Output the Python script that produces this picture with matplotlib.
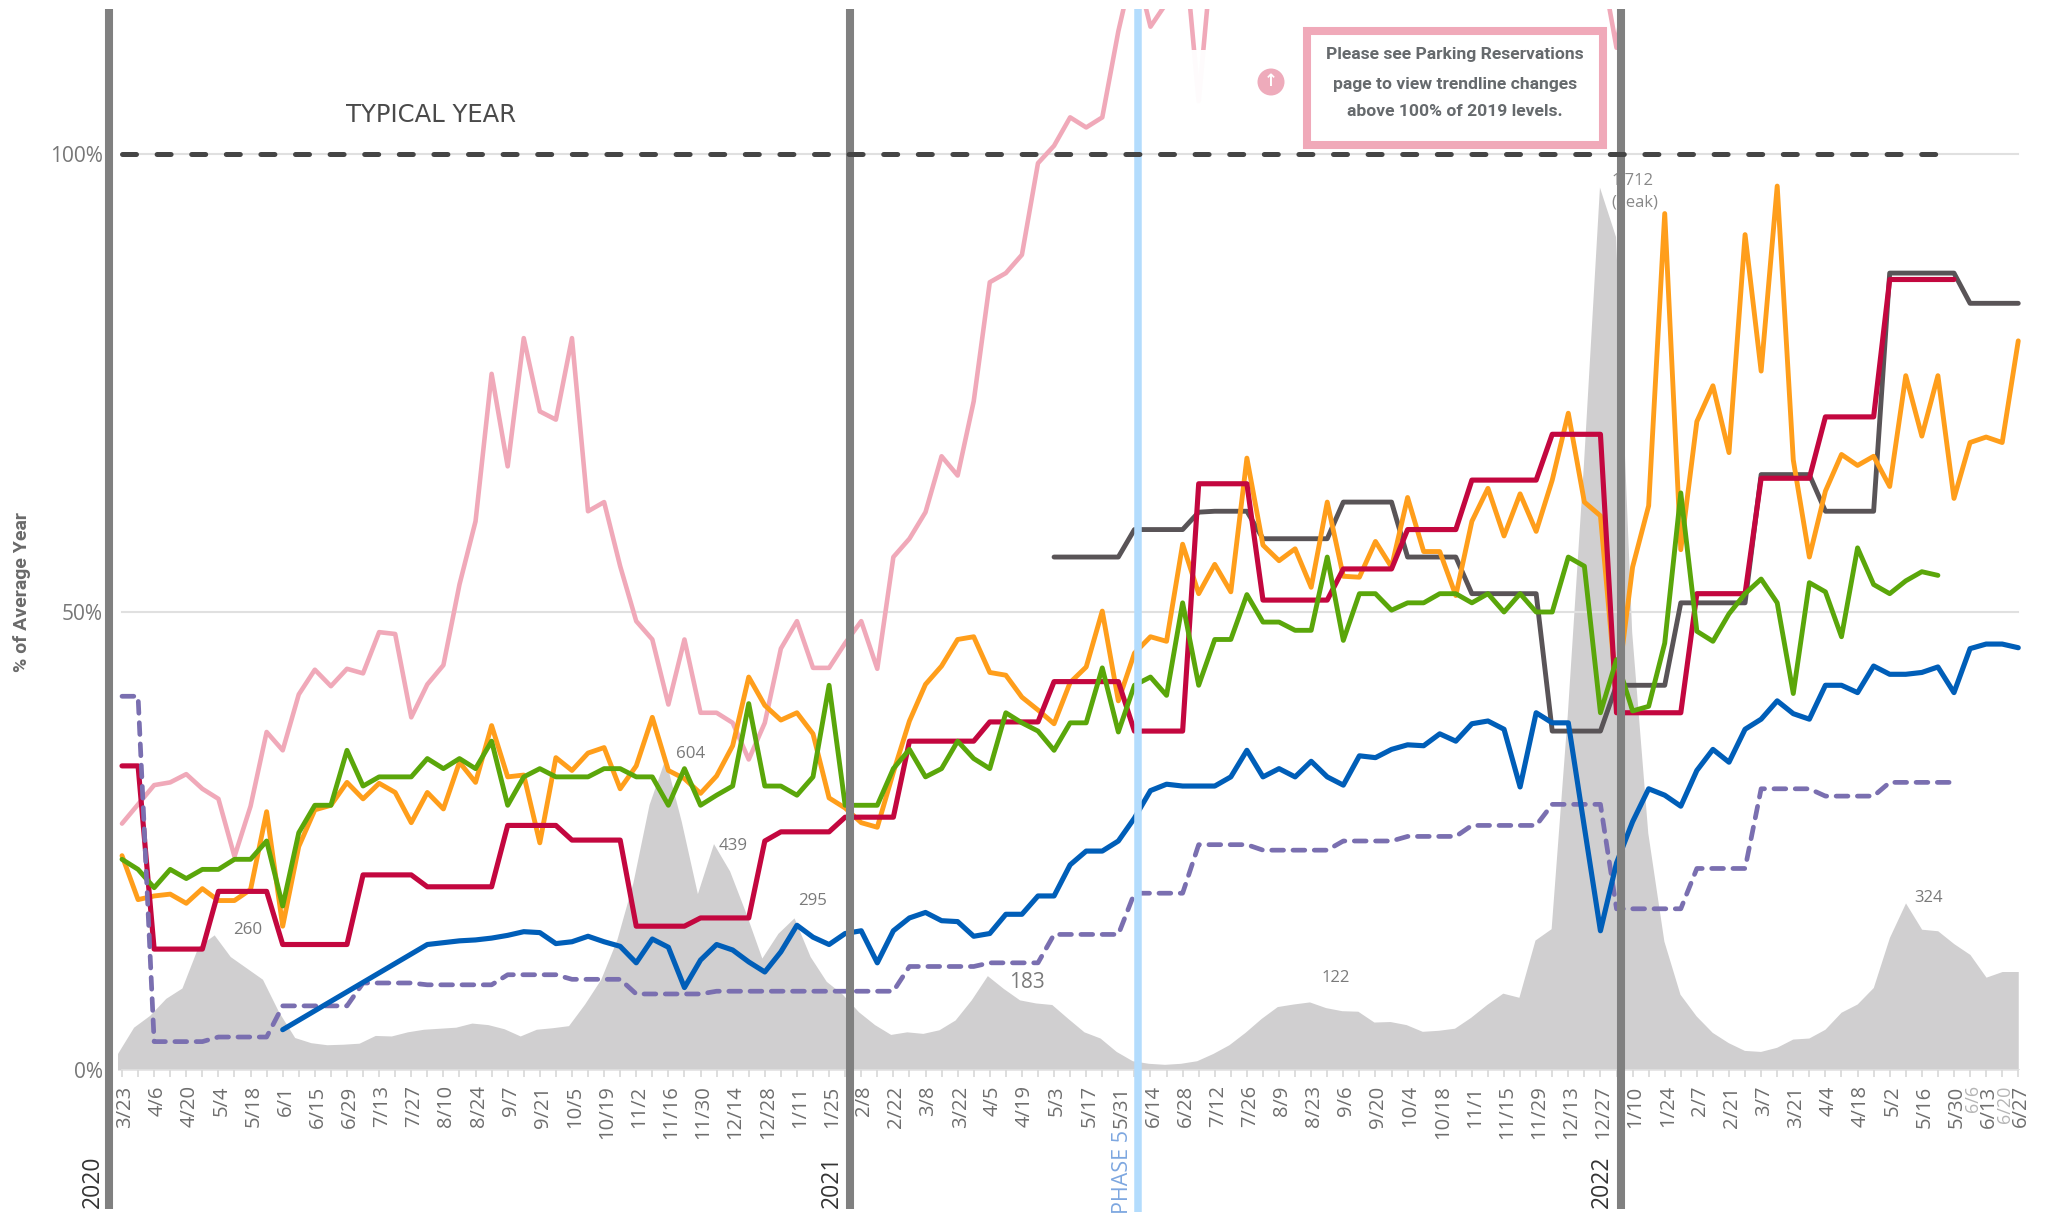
import numpy as np
import matplotlib
matplotlib.use("Agg")
import matplotlib.pyplot as plt
from matplotlib.patches import Rectangle, Ellipse

nan = float("nan")

tick_labels = ["3/23","4/6","4/20","5/4","5/18","6/1","6/15","6/29","7/13","7/27","8/10","8/24","9/7","9/21","10/5","10/19",
 "11/2","11/16","11/30","12/14","12/28","1/11","1/25","2/8","2/22","3/8","3/22","4/5","4/19","5/3","5/17","5/31","6/14",
 "6/28","7/12","7/26","8/9","8/23","9/6","9/20","10/4","10/18","11/1","11/15","11/29","12/13","12/27","1/10","1/24",
 "2/7","2/21","3/7","3/21","4/4","4/18","5/2","5/16","5/30"]
extra_tick_labels = ["6/6","6/13","6/20","6/27"]

pink = [26.9,29,31.1,31.4,32.3,30.7,29.6,23.3,28.8,36.9,
 34.9,41,43.7,41.9,43.8,43.3,47.8,47.6,38.5,42.1,
 44.2,53,59.9,76,65.9,79.9,71.9,71,79.9,61,
 62,55,49,47,39.9,47,39,39,37.9,33.9,
 37.9,46,49,43.9,43.9,46.6,49,43.8,56,58,
 60.9,67,64.9,73,86,87,89,99,100.9,104,
 102.9,104,113.4,121,113.9,116.5,125,105.8,125,140,
 145,150,155,160,150,165,170,160,175,180,
 170,185,175,190,180,170,185,175,160,150,140,125,
 121.4,111.6,124.3] + [nan]*24

orange = [23.4,18.6,19,19.2,18.2,19.8,18.5,18.5,19.7,28.2,
 15.7,24.4,28.4,28.9,31.4,29.6,31.3,30.3,27,30.3,
 28.5,33.6,31.4,37.6,32,32.2,24.8,34.1,32.7,34.6,
 35.2,30.7,33.2,38.5,32.7,31.8,30.2,32.1,35.4,42.9,
 39.8,38.2,39,36.7,29.7,28.6,27,26.5,32.5,38.1,
 42.1,44.1,47,47.3,43.4,43.1,40.7,39.3,37.8,42.3,
 44,50.1,40.3,45.5,47.3,46.8,57.4,52,55.2,52.2,
 66.8,57.3,55.6,56.9,52.7,62,53.9,53.8,57.7,54.9,
 62.5,56.6,56.6,51.8,59.9,63.5,58.3,62.9,58.8,64.4,
 71.7,62,60.5,41,54.9,61.6,93.5,56.8,70.8,74.7,
 67.4,91.2,76.3,96.5,66.6,56,63.2,67.2,66,67,
 63.7,75.8,69.2,75.8,62.4,68.5,69.1,68.5,79.6]

green = [23,21.9,19.9,21.9,20.9,21.9,21.9,23,23,25,
 17.9,25.9,28.9,28.9,34.9,31,32,32,32,34,
 32.9,34,32.9,35.9,28.9,32,32.9,32,32,32,
 32.9,32.9,32,32,28.9,32.9,28.9,30,31,40,
 31,31,30,32,42,28.9,28.9,28.9,32.9,35,
 32,32.9,35.9,34,32.9,39,37.9,37,34.9,37.9,
 37.9,43.9,36.9,42,42.9,40.9,51,42,47,47,
 51.9,48.9,48.9,48,48,56,46.9,52,52,50.2,
 51,51,52,52,51,52,50,52,50,50,
 56,55,39,44.8,39.2,39.7,46.6,63,47.9,46.8,
 49.8,52,53.6,51,41.1,53.2,52.2,47.3,57,53,
 52,53.4,54.4,54] + [nan]*5

red = [33.2,33.2,13.2,13.2,13.2,13.2,19.5,19.5,19.5,19.5,
 13.7,13.7,13.7,13.7,13.7,21.3,21.3,21.3,21.3,20,
 20,20,20,20,26.7,26.7,26.7,26.7,25.1,25.1,
 25.1,25.1,15.7,15.7,15.7,15.7,16.6,16.6,16.6,16.6,
 25,26,26,26,26,27.6,27.6,27.6,27.6,35.9,
 35.9,35.9,35.9,35.9,38,38,38,38,42.4,42.4,
 42.4,42.4,42.4,37,37,37,37,64,64,64,
 64,51.3,51.3,51.3,51.3,51.3,54.7,54.7,54.7,54.7,
 59,59,59,59,64.4,64.4,64.4,64.4,64.4,69.4,
 69.4,69.4,69.4,39,39,39,39,39,52,52,
 52,52,64.6,64.6,64.6,64.6,71.3,71.3,71.3,71.3,
 86.3,86.3,86.3,86.3,86.3] + [nan]*4

gray_line = [nan]*58 + [56,56,56,56,56,59,59,59,59,60.9,61,61,61,
 58,58,58,58,58,62,62,62,62,
 56,56,56,56,52,52,52,52,52,37,37,37,37,
 42,42,42,42,51,51,51,51,51,65,65,65,65,
 61,61,61,61,87,87,87,87,87,83.7,83.7,83.7,83.7]

blue = [nan]*10 + [4.4] + [nan]*8 + [13.7,13.9,14.1,14.2,14.4,14.7,15.1,15,13.8,14,
 14.6,14,13.5,11.7,14.3,13.4,9,12,13.7,13.1,
 11.8,10.7,12.9,15.8,14.5,13.7,14.9,15.2,11.7,15.2,
 16.6,17.2,16.3,16.2,14.6,14.9,17,17,19,19,
 22.4,23.9,23.9,25,27.5,30.5,31.2,31,31,31,
 32,34.9,32,32.9,32,33.7,32,31.1,34.3,34.1,35,
 35.5,35.4,36.7,35.9,37.8,38.1,37.2,30.9,39,37.9,
 37.9,26.5,15.2,22.6,27.1,30.7,30,28.8,32.7,35,
 33.6,37.2,38.3,40.3,38.9,38.3,42,42,41.2,44.1,
 43.2,43.2,43.4,44,41.2,46,46.5,46.5,46.1]

purple = [40.8,40.8,3.1,3.1,3.1,3.1,3.6,3.6,3.6,3.6,
 7,7,7,7,7,9.5,9.5,9.5,9.5,9.3,
 9.3,9.3,9.3,9.3,10.4,10.4,10.4,10.4,9.9,9.9,
 9.9,9.9,8.3,8.3,8.3,8.3,8.3,8.6,8.6,8.6,
 8.6,8.6,8.6,8.6,8.6,8.6,8.6,8.6,8.6,11.3,
 11.3,11.3,11.3,11.3,11.7,11.7,11.7,11.7,14.8,14.8,
 14.8,14.8,14.8,19.3,19.3,19.3,19.3,24.6,24.6,24.6,
 24.6,24,24,24,24,24,25,25,25,25,
 25.5,25.5,25.5,25.5,26.7,26.7,26.7,26.7,26.7,29,
 29,29,29,17.6,17.6,17.6,17.6,17.6,22,22,
 22,22,30.7,30.7,30.7,30.7,29.9,29.9,29.9,29.9,
 31.4,31.4,31.4,31.4,31.4] + [nan]*4

cases = [32,83,106,139,159,239,262,220,198,176,
 113,63,53,49,50,52,67,66,74,79,
 81,83,91,88,80,66,79,82,86,128,
 176,253,364,515,604,482,342,439,386,305,
 217,265,295,220,172,147,113,88,69,74,
 71,78,97,136,183,158,136,130,127,100,
 74,62,36,18,13,11,13,18,32,49,
 73,100,123,128,132,121,115,114,93,94,
 88,75,77,81,102,127,149,141,252,274,
 688,1172,1712,1616,850,460,250,147,105,73,
 53,38,36,44,60,62,79,112,128,160,
 257,324,273,270,245,224,180,191,191]

year_weeks = [-0.81, 45.3, 93.25]
year_names = ["2020", "2021", "2022"]
phase_week = 63.2
case_labels = [(7.84,15.3,"260",12.2),(35.4,34.5,"604",12.2),(38,24.5,"439",12.2),(42.95,18.5,"295",12.2),
               (56.3,9.5,"183",15),(75.5,10,"122",12),(112.4,18.8,"324",12)]

W, H = 2048, 1216
condensed = "Roboto"
plt.rcParams["font.family"] = ["Open Sans", "DejaVu Sans"]

fig = plt.figure(figsize=(W/100, H/100), dpi=100, facecolor="white")
AX_L, AX_R, AX_T, AX_B = 104, 2048, 9, 1070
ax2 = fig.add_axes([AX_L/W, 1-AX_B/H, (AX_R-AX_L)/W, (AX_B-AX_T)/H])
ax = fig.add_axes([AX_L/W, 1-AX_B/H, (AX_R-AX_L)/W, (AX_B-AX_T)/H])
ax.patch.set_visible(False)
xlim = ((AX_L-122)/16.07, (AX_R-122)/16.07)
ylim_top = (AX_B-AX_T)/9.16
ax.set_xlim(xlim); ax.set_ylim(0, ylim_top)
ax2.set_xlim(xlim); ax2.set_ylim(0, ylim_top/0.0563)
ax2.axis("off")

weeks = np.arange(119)
area_x = weeks - 0.28*(1 - weeks/118)
ax2.fill_between(area_x, cases, 0, color="#d0cfd0", lw=0)

for s in ax.spines.values():
    s.set_visible(False)

for v in (50, 100):
    ax.plot([0, 118], [v, v], color="#e0e0e0", lw=1.5, zorder=1)
ax.plot([0, 118], [0, 0], color="#e0e0e0", lw=2, zorder=1)

def series(vals, **kw):
    y = np.array(vals, dtype=float)
    m = ~np.isnan(y)
    ax.plot(weeks[m], y[m], solid_joinstyle="round", solid_capstyle="round", **kw)

series(pink, color="#f0a9b9", lw=3.3, zorder=3)
ax.add_patch(Rectangle((66.5, 105), 1.1, 6.4, facecolor="white", edgecolor="none", alpha=0.96, zorder=3.1))
series(gray_line, color="#595457", lw=3.5, zorder=4)
series(orange, color="#ff9e1b", lw=3.5, zorder=4.2)
series(red, color="#c3073f", lw=3.7, zorder=4.4)
series(green, color="#5aa60a", lw=3.5, zorder=4.6)
series(blue, color="#005eb8", lw=3.7, zorder=5)
yp = np.array(purple); mp = ~np.isnan(yp)
ax.plot(weeks[mp], yp[mp], color="#7a6fb0", lw=3.4, ls=(0, (2.5, 2.0)), dash_capstyle="round", zorder=4.8)

# year and phase bars
xt = ax.get_xaxis_transform()
y_bot = (AX_B-1209)/(AX_B-AX_T)
for wk in year_weeks:
    ax.plot([wk, wk], [y_bot, 1], transform=xt, color="#808080", lw=5.8, solid_capstyle="butt", clip_on=False, zorder=6)
ax.plot([phase_week]*2, [(AX_B-1212)/(AX_B-AX_T), 1], transform=xt, color="#b3dcfd", lw=5.4,
        solid_capstyle="butt", clip_on=False, zorder=6)

ax.plot([0, 113.6], [100, 100], color="#454545", lw=3.6, ls=(0, (2.8, 4.12)), dash_capstyle="round", zorder=7)

# ticks
major = list(range(0, 115, 2)) + [115, 116, 117, 118]
ax.set_xticks(major)
ax.set_xticks(range(1, 115, 2), minor=True)
ax.set_xticklabels(tick_labels + extra_tick_labels, rotation=90, fontsize=14.6, color="#6e6e6e")
ax.tick_params(axis="x", which="both", length=5, width=1.2, color="#d8d8d8", pad=6)
for lab, tx in zip(ax.get_xticklabels(), major):
    lab.set_va("top"); lab.set_ha("center")
    lab.set_transform(lab.get_transform() + matplotlib.transforms.ScaledTranslation(3/100, 0, fig.dpi_scale_trans))
    if tx in (115, 117):
        lab.set_color("#b5b5b5"); lab.set_fontsize(13)
ax.set_yticks([0, 50, 100])
ax.set_yticklabels(["0%", "50%", "100%"], fontsize=15, color="#777777")
ax.tick_params(axis="y", length=0, pad=1)

# case labels
for wk, v, t, fs in case_labels:
    ax.text(wk, v, t, fontsize=fs, color="#7a7a7a", ha="center", va="center", zorder=5.5)
ax.text(92.7, 97, "1,712", fontsize=12, color="#888888", ha="left", va="center", zorder=5.5)
ax.text(92.7, 94.7, "(Peak)", fontsize=12, color="#888888", ha="left", va="center", zorder=5.5)

def ft(x, y, s, **kw):
    return fig.text(x/W, 1-y/H, s, **kw)

ft(431, 115, "TYPICAL YEAR", fontsize=17.5, color="#4a4a4a", ha="center", va="center", family=["DejaVu Sans"])
ft(22, 592, "% of Average Year", fontsize=14, color="#6a6a6a", rotation=90, ha="center", va="center",
   family=[condensed, "DejaVu Sans"], fontweight="bold")
for x, name in zip((93, 832, 1602), year_names):
    ft(x, 1208, name, fontsize=16.5, color="#333333", rotation=90, ha="center", va="bottom")
ft(1122, 1214, "PHASE 5", fontsize=15.5, color="#7da7e0", rotation=90, ha="center", va="bottom")

# call-out
fig.add_artist(Rectangle((1307/W, 1-145/H), 296/W, 114/H, transform=fig.transFigure, facecolor="white",
                         edgecolor="#f0a9b9", lw=5.8, joinstyle="miter", zorder=8))
for y, line in zip((55, 84, 112), ("Please see Parking Reservations", "page to view trendline changes", "above 100% of 2019 levels.")):
    ft(1455, y, line, fontsize=12.6, color="#666a6d", ha="center", va="center", family=[condensed, "DejaVu Sans"],
       fontweight="bold", zorder=9)
fig.add_artist(Ellipse((1271/W, 1-82/H), 27/W, 27/H, transform=fig.transFigure, facecolor="#eeabbb", edgecolor="none", zorder=8))
ft(1271, 81, "\u2191", fontsize=12, color="white", ha="center", va="center", family=["DejaVu Sans"], fontweight="bold", zorder=9)

fig.savefig("out.png", dpi=100, facecolor="white")
